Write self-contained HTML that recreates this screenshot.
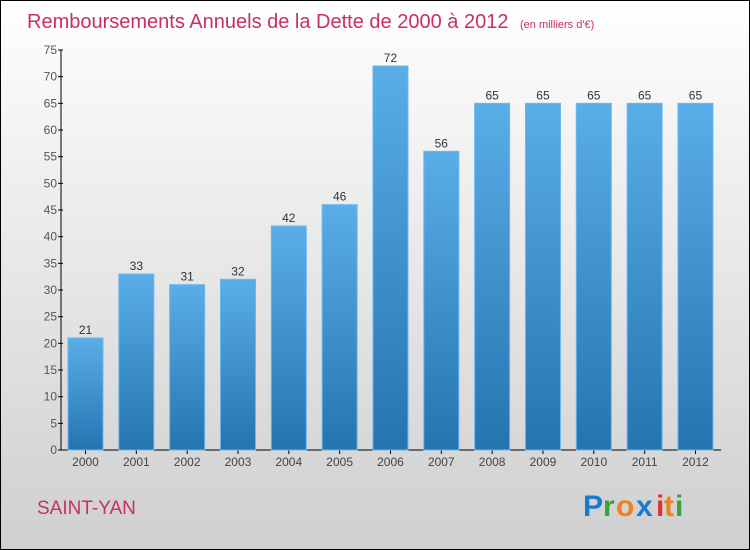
<!DOCTYPE html>
<html><head><meta charset="utf-8"><style>
body{margin:0}
#c{width:750px;height:550px;position:relative;box-sizing:border-box;border:1px solid #000;background:linear-gradient(#ffffff,#f0f0f0 30%,#cfcfcf);font-family:"Liberation Sans",sans-serif;overflow:hidden}
</style></head><body>
<div id="c">
<svg width="750" height="550" style="position:absolute;left:-1px;top:-1px">
<defs><linearGradient id="bg" x1="0" y1="0" x2="0" y2="1"><stop offset="0" stop-color="#5aaee8"/><stop offset="1" stop-color="#2474b0"/></linearGradient></defs>
<text x="27" y="28" font-size="20" fill="#c8305e">Remboursements Annuels de la Dette de 2000 à 2012 <tspan font-size="11" dx="6">(en milliers d'€)</tspan></text>
<g id="axes"></g><g id="bars"></g>
<text x="37" y="514" font-size="19" fill="#c8305e">SAINT-YAN</text>
<g font-size="30" font-weight="bold">
<text x="583" y="516" fill="#1a7ad0">P</text><text x="603" y="516" fill="#3aa03a">r</text><text x="616" y="516" fill="#f08020">o</text><text x="636" y="516" fill="#1a7ad0">x</text><text x="656" y="516" fill="#e03030">i</text><text x="664" y="516" fill="#f08020">t</text><text x="675" y="516" fill="#3aa03a">i</text></g>
</svg>
</div>
<script>
const years=["2000","2001","2002","2003","2004","2005","2006","2007","2008","2009","2010","2011","2012"];
const values=[21,33,31,32,42,46,72,56,65,65,65,65,65];
const yTicks=[0,5,10,15,20,25,30,35,40,45,50,55,60,65,70,75];
const ns="http://www.w3.org/2000/svg";
const y0=450,yTop=50,yMax=75,x0=61,step=50.83,bw=35,firstC=85.5;
const ys=v=>y0-(v/yMax)*(y0-yTop);
const xs=i=>firstC+i*step;
function mk(t,a,p){const e=document.createElementNS(ns,t);for(const k in a)e.setAttribute(k,a[k]);p.appendChild(e);return e;}
const ax=document.getElementById('axes'),bg=document.getElementById('bars');
let l=mk('line',{x1:x0,y1:yTop,x2:x0,y2:y0,stroke:'#000'},ax);


l=mk('line',{x1:x0,y1:y0,x2:721,y2:y0,stroke:'#000'},ax);


yTicks.forEach(v=>{
 mk('line',{x1:x0-3,y1:ys(v),x2:x0+2,y2:ys(v),stroke:'#000'},ax);
 const t=mk('text',{x:x0-4,y:ys(v)+4,'font-size':12,fill:'#555','text-anchor':'end'},ax);t.textContent=v;
 
 
});
years.forEach((y,i)=>{
 const v=values[i],c=xs(i);
 const r=mk('rect',{x:c-bw/2,y:ys(v),width:bw,height:y0-ys(v),fill:'url(#bg)',stroke:'#6ab8ee','stroke-width':1},bg);
 
 
 const t=mk('text',{x:c,y:ys(v)-4,'font-size':12,fill:'#333','text-anchor':'middle'},bg);t.textContent=v;
 
 
 mk('line',{x1:c,y1:y0,x2:c,y2:y0+4,stroke:'#000'},ax);
 const xl=mk('text',{x:c,y:y0+16,'font-size':12,fill:'#444','text-anchor':'middle'},ax);xl.textContent=y;
 
 
});
</script>
</body></html>
